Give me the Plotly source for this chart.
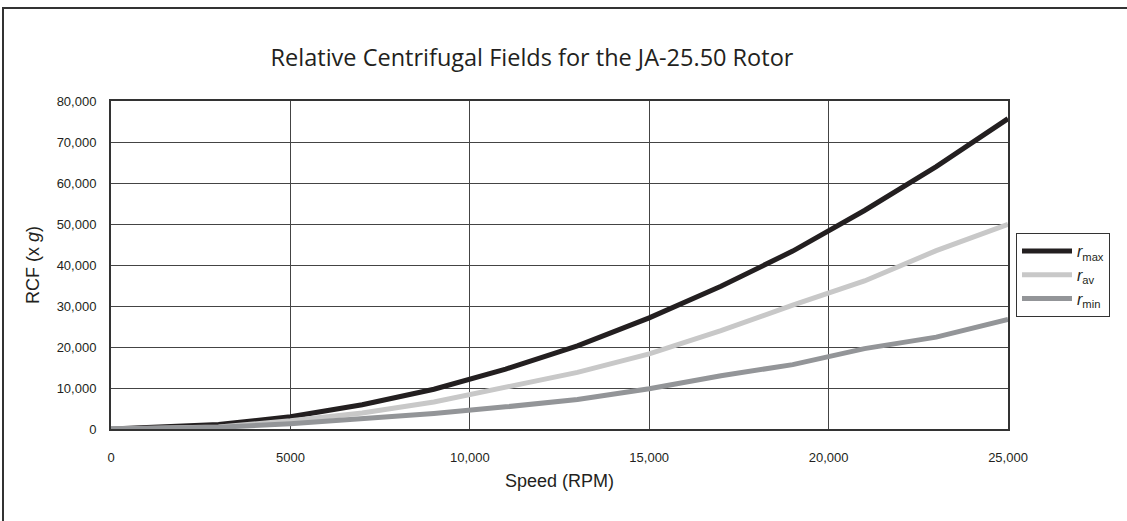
import plotly.graph_objects as go

speed = [0, 3000, 5000, 7000, 9000, 11000, 13000, 15000, 17000, 19000, 21000, 23000, 25000]
rcf_max = [0, 1100, 3000, 5900, 9700, 14600, 20300, 27100, 34800, 43400, 53300, 64000, 75700]
rcf_av = [0, 500, 2000, 3900, 6600, 10100, 13800, 18300, 24000, 30200, 36100, 43500, 49900]
rcf_min = [0, 400, 1300, 2400, 3800, 5400, 7200, 9800, 13000, 15700, 19600, 22400, 26700]

x_tickvals = [0, 5000, 10000, 15000, 20000, 25000]
x_ticktext = ["0", "5000", "10,000", "15,000", "20,000", "25,000"]
y_tickvals = [0, 10000, 20000, 30000, 40000, 50000, 60000, 70000, 80000]
y_ticktext = ["0", "10,000", "20,000", "30,000", "40,000", "50,000", "60,000", "70,000", "80,000"]

series = [
    ("<i>r</i><sub>max</sub>", rcf_max, "#231f20"),
    ("<i>r</i><sub>av</sub>", rcf_av, "#c8c8c8"),
    ("<i>r</i><sub>min</sub>", rcf_min, "#939598"),
]

fig = go.Figure()
for name, vals, color in series:
    fig.add_trace(go.Scatter(x=speed, y=vals, mode="lines", name=name,
                             line=dict(color=color, width=5)))

W, H = 1127, 521
L, R, T, B = 111, 1008, 101, 429
pw, ph = R - L, B - T

def px(x):
    return (x - L) / pw

def py(y):
    return (B - y) / ph

tickfont = dict(family="Liberation Sans, Arial, sans-serif", size=13, color="#231f20")
axfont = dict(family="Liberation Sans, Arial, sans-serif", size=18, color="#231f20")

fig.update_layout(
    width=W, height=H,
    margin=dict(l=L, r=W - R, t=T, b=H - B, pad=0),
    paper_bgcolor="white", plot_bgcolor="white",
    title=dict(text="Relative Centrifugal Fields for the JA-25.50 Rotor",
               font=dict(family="Open Sans, Noto Sans, sans-serif", size=23.5, color="#231f20"),
               x=532 / W, xanchor="center", y=1 - 58 / H, yanchor="middle"),
    xaxis=dict(range=[0, 25000], tickvals=x_tickvals, ticktext=x_ticktext,
               showgrid=True, gridcolor="#444444", gridwidth=1,
               showline=True, linecolor="#333333", linewidth=2, mirror=True,
               zeroline=False, ticks="", tickfont=tickfont, ticklabelstandoff=15,
               title=dict(text="Speed (RPM)", standoff=11, font=axfont)),
    yaxis=dict(range=[0, 80000], tickvals=y_tickvals, ticktext=y_ticktext,
               showgrid=True, gridcolor="#444444", gridwidth=1,
               showline=True, linecolor="#333333", linewidth=2, mirror=True,
               zeroline=False, ticks="", tickfont=tickfont, ticklabelstandoff=10,
               title=dict(text="RCF (x <i>g</i>)", standoff=12, font=axfont)),
    legend=dict(x=px(1016), y=py(233), xanchor="left", yanchor="top",
                bordercolor="#333333", borderwidth=1, bgcolor="white",
                font=dict(family="Liberation Sans, Arial, sans-serif", size=16, color="#231f20"),
                tracegroupgap=0, itemwidth=50),
    showlegend=True,
)

fig.add_shape(type="rect", xref="paper", yref="paper",
              x0=px(3), y0=py(530), x1=px(1135), y1=py(8),
              line=dict(color="#333333", width=2), fillcolor="rgba(0,0,0,0)", layer="below")

fig.write_html("out.html", config={"displayModeBar": False},
               post_script="document.body.style.margin='0';document.body.style.overflow='hidden';")
